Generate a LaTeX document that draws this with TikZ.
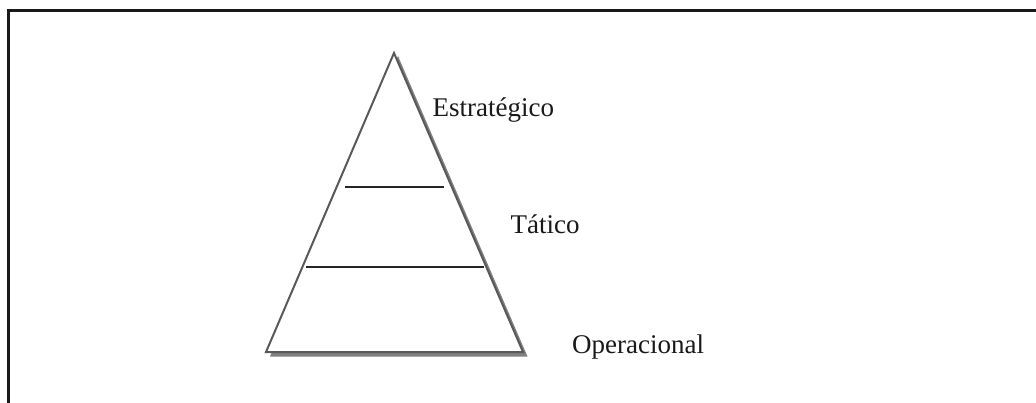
\documentclass[tikz,border=0pt]{standalone}
\usepackage{fontspec}
\setmainfont{Liberation Serif}
\begin{document}
\begin{tikzpicture}[x=1pt,y=-1pt,
  lbl/.style={anchor=base west,inner sep=0pt,font=\fontsize{27}{31}\selectfont,text=black!90},
  tri/.style={draw=black!65,line width=2pt,fill=white,line join=miter},
  shadow/.style={fill=black!50,draw=none},
  level/.style={draw=black!85,line width=2.5pt}]
\useasboundingbox (0,0) rectangle (1036,403);
% frame (top and left edges)
\draw[black!35,line width=3.5pt] (8.5,403) -- (8.5,10.5) -- (1036,10.5);
\draw[black!90,line width=2.2pt] (8.5,403) -- (8.5,10.5) -- (1036,10.5);
% pyramid with shadow
\coordinate (apex) at (394,53);
\coordinate (bl) at (266,352);
\coordinate (br) at (523,352);
\fill[shadow] (398,56) -- (527.5,356.5) -- (270,356.5) -- cycle;
\draw[tri] (apex) -- (br) -- (bl) -- cycle;
% level lines
\coordinate (l1a) at (345,187); \coordinate (l1b) at (444,187);
\coordinate (l2a) at (306,267); \coordinate (l2b) at (484,267);
\draw[level] (l1a) -- (l1b);
\draw[level] (l2a) -- (l2b);
% labels
\node[lbl] (estr) at (432.5,117) {Estratégico};
\node[lbl] (tat) at (510.5,234) {Tático};
\node[lbl] (oper) at (572,353) {Operacional};
\end{tikzpicture}
\end{document}
